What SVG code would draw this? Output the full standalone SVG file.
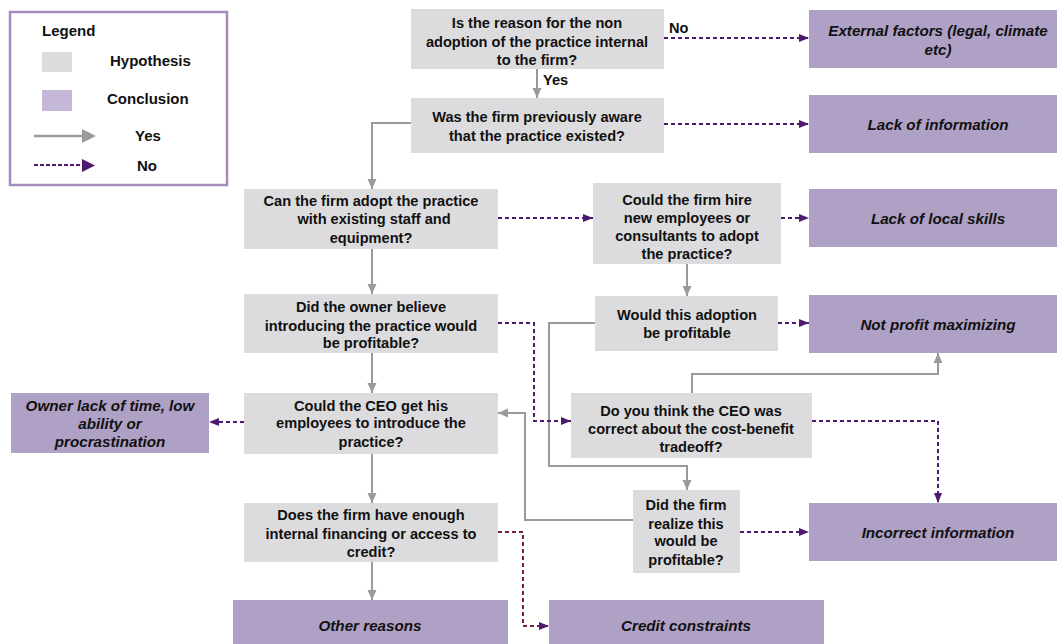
<svg xmlns="http://www.w3.org/2000/svg" width="1057" height="644" viewBox="0 0 1057 644">
<style>
text{font-family:"Liberation Sans",Arial,sans-serif;font-weight:bold;font-size:14.6px;fill:#111;}
.lg{font-size:15px;}
.h{fill:#dcdcde;}
.c{fill:#afa0c5;}
.ct{font-style:italic;font-size:15.2px;}
.m{text-anchor:middle;}
.yes{fill:none;stroke:#9a9a9a;stroke-width:2;}
.no{fill:none;stroke:#4e1a70;stroke-width:2;stroke-dasharray:4 3;}
.nr{fill:none;stroke:#7a1f45;stroke-width:2;stroke-dasharray:4 3;}
</style>
<defs>
<marker id="ag" markerUnits="userSpaceOnUse" markerWidth="10" markerHeight="10" viewBox="0 0 10 10" refX="10" refY="5" orient="auto"><path d="M0,0.5 L10,5 L0,9.5 Z" fill="#9a9a9a"/></marker>
<marker id="ap" markerUnits="userSpaceOnUse" markerWidth="10" markerHeight="10" viewBox="0 0 10 10" refX="10" refY="5" orient="auto"><path d="M0,1 L10,5 L0,9 Z" fill="#4e1a70"/></marker>
</defs>
<rect width="1057" height="644" fill="#fff"/>

<g id="legend">
<rect x="10" y="12" width="217" height="173" fill="#fff" stroke="#a58cbf" stroke-width="2.5"/>
<text class="lg" x="42" y="36">Legend</text>
<rect x="42" y="52" width="30" height="20" fill="#dcdcde"/>
<text class="lg" x="110" y="66">Hypothesis</text>
<rect x="42" y="90" width="30" height="21" fill="#c5b7d7"/>
<text class="lg" x="107" y="104">Conclusion</text>
<line x1="34" y1="136" x2="83" y2="136" stroke="#9a9a9a" stroke-width="2.5"/>
<path d="M82,129 L96,136 L82,143 Z" fill="#9a9a9a"/>
<text class="lg" x="135" y="141">Yes</text>
<line x1="34" y1="165" x2="83" y2="165" stroke="#4e1a70" stroke-width="2" stroke-dasharray="4 2"/>
<path d="M82,159 L95,165.5 L82,172 Z" fill="#4e1a70"/>
<text class="lg" x="137" y="171">No</text>
</g>

<g id="connectors">
<path class="yes" d="M537,69 V98" marker-end="url(#ag)"/>
<path class="yes" d="M411,123 H372 V189" marker-end="url(#ag)"/>
<path class="yes" d="M372,249 V294" marker-end="url(#ag)"/>
<path class="yes" d="M372,353 V393" marker-end="url(#ag)"/>
<path class="yes" d="M372,454 V503" marker-end="url(#ag)"/>
<path class="yes" d="M372,562 V600" marker-end="url(#ag)"/>
<path class="yes" d="M687,264 V296" marker-end="url(#ag)"/>
<path class="yes" d="M595,323 H549 V466 H687 V490" marker-end="url(#ag)"/>
<path class="yes" d="M633,520 H525 V413 H498" marker-end="url(#ag)"/>
<path class="yes" d="M692,393 V374 H938 V353" marker-end="url(#ag)"/>
<path class="no" d="M664,38 H809" marker-end="url(#ap)"/>
<path class="no" d="M664,124 H809" marker-end="url(#ap)"/>
<path class="no" d="M498,218 H593" marker-end="url(#ap)"/>
<path class="no" d="M781,218 H809" marker-end="url(#ap)"/>
<path class="no" d="M498,323 H534 V421 H571" marker-end="url(#ap)"/>
<path class="no" d="M778,323 H809" marker-end="url(#ap)"/>
<path class="no" d="M244,422 H209" marker-end="url(#ap)"/>
<path class="no" d="M812,421 H938 V503" marker-end="url(#ap)"/>
<path class="no" d="M740,532 H809" marker-end="url(#ap)"/>
<path class="nr" d="M498,532 H523 V626 H549" marker-end="url(#ap)"/>
<text x="669" y="33">No</text>
<text x="543" y="85">Yes</text>
</g>

<g id="n1"><rect class="h" x="411" y="9" width="253" height="60"/>
<text class="m" x="537" y="28">Is the reason for the non</text>
<text class="m" x="537" y="47">adoption of the practice internal</text>
<text class="m" x="537" y="65">to the firm?</text></g>

<g id="n2"><rect class="h" x="411" y="98" width="253" height="55"/>
<text class="m" x="537" y="121.5">Was the firm previously aware</text>
<text class="m" x="537" y="140.5">that the practice existed?</text></g>

<g id="n3"><rect class="h" x="244" y="189" width="254" height="60"/>
<text class="m" x="371" y="206">Can the firm adopt the practice</text>
<text class="m" x="374" y="224">with existing staff and</text>
<text class="m" x="371" y="243">equipment?</text></g>

<g id="n4"><rect class="h" x="593" y="183" width="188" height="81"/>
<text class="m" x="687" y="205">Could the firm hire</text>
<text class="m" x="687" y="223">new employees or</text>
<text class="m" x="687" y="240.5">consultants to adopt</text>
<text class="m" x="687" y="258.5">the practice?</text></g>

<g id="n5"><rect class="h" x="244" y="294" width="254" height="59"/>
<text class="m" x="371" y="312">Did the owner believe</text>
<text class="m" x="371" y="330.5">introducing the practice would</text>
<text class="m" x="371" y="348">be profitable?</text></g>

<g id="n6"><rect class="h" x="595" y="296" width="183" height="55"/>
<text class="m" x="687" y="320">Would this adoption</text>
<text class="m" x="687" y="338">be profitable</text></g>

<g id="n7"><rect class="h" x="244" y="393" width="254" height="61"/>
<text class="m" x="371" y="410.5">Could the CEO get his</text>
<text class="m" x="371" y="428">employees to introduce the</text>
<text class="m" x="371" y="447">practice?</text></g>

<g id="n8"><rect class="h" x="571" y="393" width="241" height="65"/>
<text class="m" x="691" y="415.5">Do you think the CEO was</text>
<text class="m" x="691" y="433.5">correct about the cost-benefit</text>
<text class="m" x="691" y="451.5">tradeoff?</text></g>

<g id="n9"><rect class="h" x="244" y="503" width="254" height="59"/>
<text class="m" x="371" y="520">Does the firm have enough</text>
<text class="m" x="371" y="538.5">internal financing or access to</text>
<text class="m" x="371" y="557">credit?</text></g>

<g id="n10"><rect class="h" x="633" y="490" width="107" height="83"/>
<text class="m" x="686" y="510">Did the firm</text>
<text class="m" x="686" y="528.5">realize this</text>
<text class="m" x="686" y="546">would be</text>
<text class="m" x="686" y="564.5">profitable?</text></g>

<g id="cA"><rect class="c" x="809" y="10" width="258" height="58"/>
<text class="m ct" x="938" y="36">External factors (legal, climate</text>
<text class="m ct" x="938" y="55">etc)</text></g>

<g id="cB"><rect class="c" x="809" y="95" width="258" height="58"/>
<text class="m ct" x="938" y="129.5">Lack of information</text></g>

<g id="cC"><rect class="c" x="809" y="189" width="258" height="58"/>
<text class="m ct" x="938" y="223.5">Lack of local skills</text></g>

<g id="cD"><rect class="c" x="809" y="295" width="258" height="58"/>
<text class="m ct" x="938" y="329.5">Not profit maximizing</text></g>

<g id="cE"><rect class="c" x="11" y="393" width="198" height="60"/>
<text class="m ct" x="110" y="410.5">Owner lack of time, low</text>
<text class="m ct" x="110" y="429">ability or</text>
<text class="m ct" x="110" y="446.5">procrastination</text></g>

<g id="cF"><rect class="c" x="809" y="503" width="258" height="58"/>
<text class="m ct" x="938" y="537.5">Incorrect information</text></g>

<g id="cG"><rect class="c" x="233" y="600" width="275" height="50"/>
<text class="m ct" x="370" y="631">Other reasons</text></g>

<g id="cH"><rect class="c" x="549" y="600" width="275" height="50"/>
<text class="m ct" x="686" y="631">Credit constraints</text></g>
</svg>
